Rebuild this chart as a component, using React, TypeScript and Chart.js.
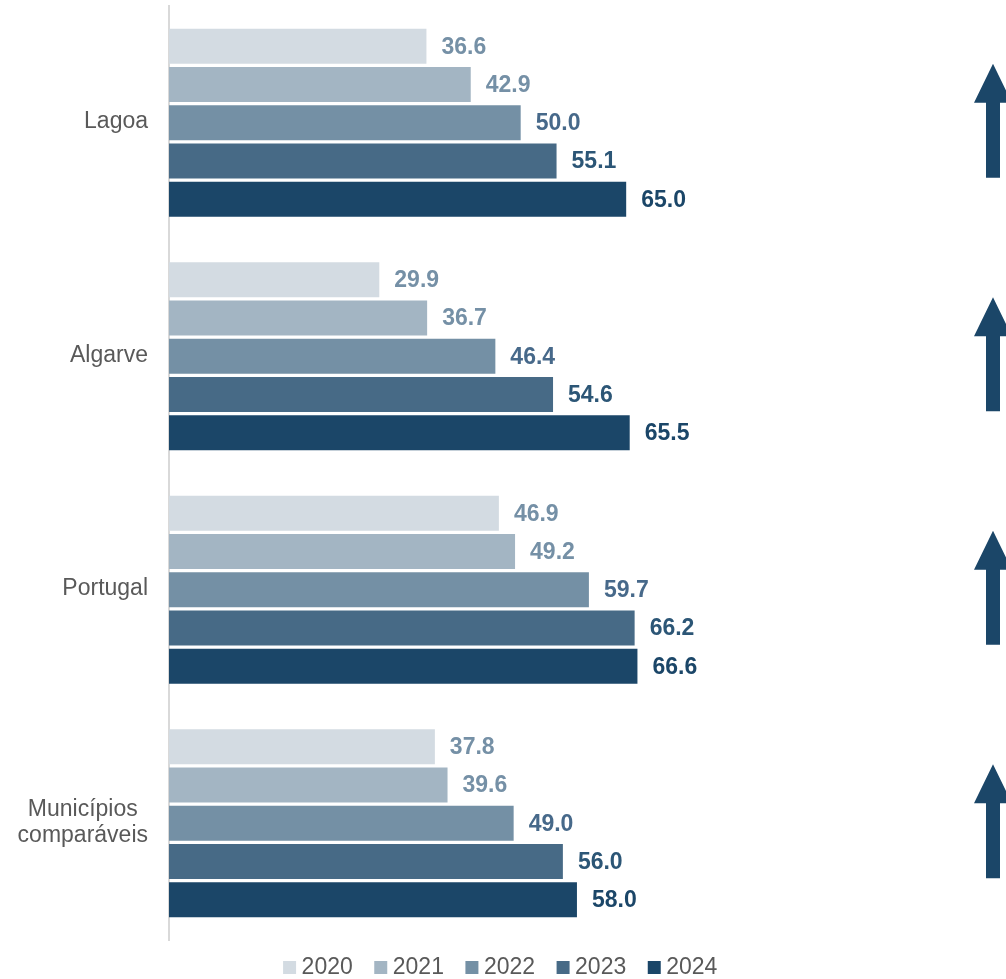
import React, { useEffect, useRef } from "react";
import { Chart, registerables } from "chart.js";

Chart.register(...registerables);

const categories: string[][] = [["Lagoa"], ["Algarve"], ["Portugal"], ["Municípios", "comparáveis"]];
const years = ["2020", "2021", "2022", "2023", "2024"];
const s2020 = [36.6, 29.9, 46.9, 37.8];
const s2021 = [42.9, 36.7, 49.2, 39.6];
const s2022 = [50.0, 46.4, 59.7, 49.0];
const s2023 = [55.1, 54.6, 66.2, 56.0];
const s2024 = [65.0, 65.5, 66.6, 58.0];
const seriesValues = [s2020, s2021, s2022, s2023, s2024];
const barColors = ["#d3dbe2", "#a3b5c3", "#7490a5", "#476a86", "#1b4668"];
const labelColors = ["#7590a6", "#7590a6", "#47698a", "#2c5676", "#1b4668"];
const trendUp = [true, true, true, true];

const FONT = '"Liberation Sans", Arial, sans-serif';

const valueLabelPlugin = {
  id: "valueLabels",
  afterDatasetsDraw(chart: any) {
    const ctx = chart.ctx;
    ctx.save();
    ctx.font = `bold 23px ${FONT}`;
    ctx.textAlign = "left";
    ctx.textBaseline = "middle";
    chart.data.datasets.forEach((ds: any, di: number) => {
      const meta = chart.getDatasetMeta(di);
      meta.data.forEach((el: any, i: number) => {
        ctx.fillStyle = labelColors[di];
        ctx.fillText(Number(ds.data[i]).toFixed(1), el.x + 15, el.y + 1);
      });
    });
    ctx.restore();
  },
};

const categoryLabelPlugin = {
  id: "categoryLabels",
  afterDraw(chart: any) {
    const ctx = chart.ctx;
    const yScale = chart.scales.y;
    const right = chart.chartArea.left - 21;
    ctx.save();
    ctx.font = `23px ${FONT}`;
    ctx.fillStyle = "#595959";
    ctx.textAlign = "center";
    ctx.textBaseline = "middle";
    const lineH = 26;
    categories.forEach((lines, i) => {
      const yc = yScale.getPixelForValue(i);
      const blockW = Math.max(...lines.map((l) => ctx.measureText(l).width));
      const cx = right - blockW / 2;
      lines.forEach((l, k) => {
        const y = yc + (k - (lines.length - 1) / 2) * lineH - 1;
        ctx.fillText(l, cx, y);
      });
    });
    ctx.restore();
  },
};

const arrowPlugin = {
  id: "arrows",
  afterDraw(chart: any) {
    const ctx = chart.ctx;
    const yScale = chart.scales.y;
    const cx = chart.width - 13;
    ctx.save();
    ctx.fillStyle = "#1b4668";
    trendUp.forEach((up, i) => {
      const yc = yScale.getPixelForValue(i) - 2;
      const half = 57;
      const headH = 39;
      const headW = 19;
      const shaftW = 7;
      const dir = up ? 1 : -1;
      const tip = yc - dir * half;
      const base = tip + dir * headH;
      const end = yc + dir * half;
      ctx.beginPath();
      ctx.moveTo(cx, tip);
      ctx.lineTo(cx + headW, base);
      ctx.lineTo(cx + shaftW, base);
      ctx.lineTo(cx + shaftW, end);
      ctx.lineTo(cx - shaftW, end);
      ctx.lineTo(cx - shaftW, base);
      ctx.lineTo(cx - headW, base);
      ctx.closePath();
      ctx.fill();
    });
    ctx.restore();
  },
};

export default function App() {
  const canvasRef = useRef<HTMLCanvasElement | null>(null);

  useEffect(() => {
    if (!canvasRef.current) return;
    const chart = new Chart(canvasRef.current, {
      type: "bar",
      data: {
        labels: categories.map((c) => c.join(" ")),
        datasets: years.map((y, i) => ({
          label: y + "\u2002",
          data: seriesValues[i],
          backgroundColor: barColors[i],
          borderWidth: 0,
          categoryPercentage: 0.82,
          barPercentage: 0.915,
        })),
      },
      options: {
        indexAxis: "y",
        animation: false,
        responsive: true,
        maintainAspectRatio: false,
        layout: { padding: { top: 6, right: 0, left: 12, bottom: 0 } },
        scales: {
          x: {
            min: 0,
            max: 119,
            display: false,
          },
          y: {
            grid: { display: false },
            border: { display: true, color: "#d9d9d9", width: 2 },
            ticks: { display: false },
            afterFit: (s: any) => {
              s.width = 157;
            },
          },
        },
        plugins: {
          legend: {
            position: "bottom",
            labels: {
              usePointStyle: true,
              pointStyle: "rect",
              boxWidth: 1,
              boxHeight: 13,
              padding: 16,
              color: "#595959",
              font: { family: FONT, size: 23 },
            },
          },
          tooltip: { enabled: false },
        },
      },
      plugins: [valueLabelPlugin, categoryLabelPlugin, arrowPlugin],
    } as any);
    return () => chart.destroy();
  }, []);

  return (
    <div style={{ position: "fixed", left: 0, top: 0, width: 1006, height: 979, overflow: "hidden", background: "#fff" }}>
      <div style={{ position: "relative", width: 1006, height: 989 }}>
        <canvas ref={canvasRef} />
      </div>
    </div>
  );
}
